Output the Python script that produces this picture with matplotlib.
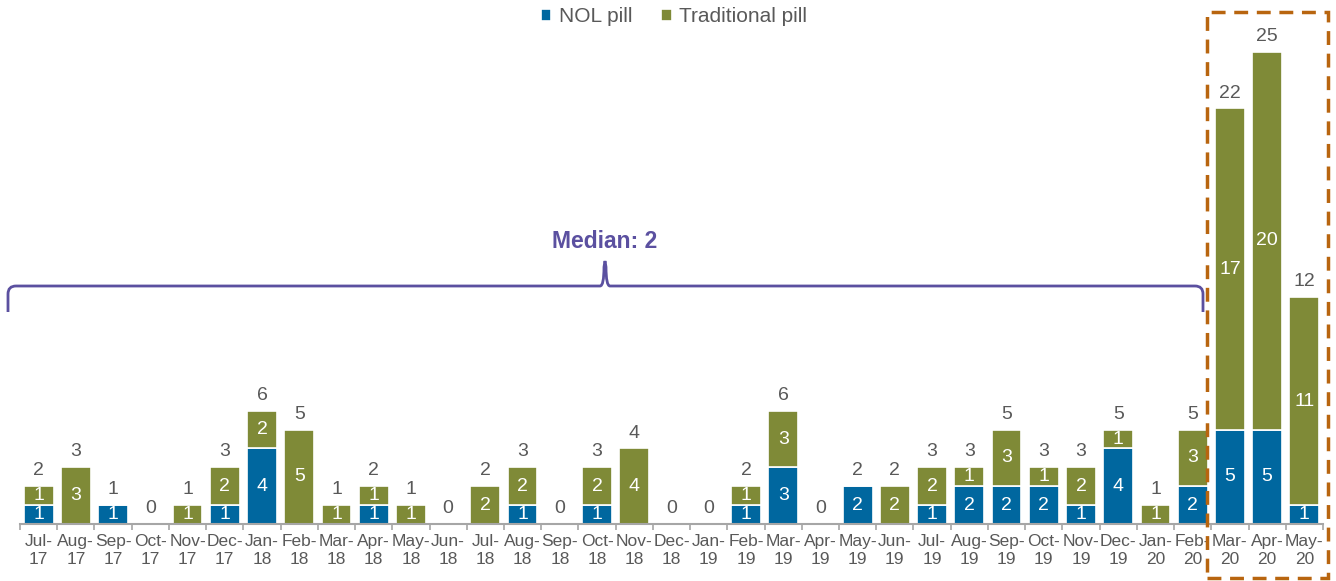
import numpy as np
import matplotlib.pyplot as plt
from matplotlib.path import Path
from matplotlib.patches import PathPatch, Rectangle

plt.rcParams['font.family'] = ['Liberation Sans', 'DejaVu Sans']

months = ['Jul-17', 'Aug-17', 'Sep-17', 'Oct-17', 'Nov-17', 'Dec-17',
          'Jan-18', 'Feb-18', 'Mar-18', 'Apr-18', 'May-18', 'Jun-18',
          'Jul-18', 'Aug-18', 'Sep-18', 'Oct-18', 'Nov-18', 'Dec-18',
          'Jan-19', 'Feb-19', 'Mar-19', 'Apr-19', 'May-19', 'Jun-19',
          'Jul-19', 'Aug-19', 'Sep-19', 'Oct-19', 'Nov-19', 'Dec-19',
          'Jan-20', 'Feb-20', 'Mar-20', 'Apr-20', 'May-20']
nol = [1, 0, 1, 0, 0, 1, 4, 0, 0, 1, 0, 0, 0, 1, 0, 1, 0, 0,
       0, 1, 3, 0, 2, 0, 1, 2, 2, 2, 1, 4, 0, 2, 5, 5, 1]
trad = [1, 3, 0, 0, 1, 2, 2, 5, 1, 1, 1, 0, 2, 2, 0, 2, 4, 0,
        0, 1, 3, 0, 0, 2, 2, 1, 3, 1, 2, 1, 1, 3, 17, 20, 11]

blue = '#00679F'
green = '#7F8A37'
grey = '#595959'
purple = '#5B50A0'
orange = '#B8650F'

W, H = 1336, 581
fig = plt.figure(figsize=(W / 100, H / 100), dpi=100)
ax = fig.add_axes([20 / W, 57 / H, 1303 / W, 510 / H])

x = np.arange(len(months))
nol = np.array(nol)
trad = np.array(trad)
total = nol + trad

ax.bar(x, nol, 0.8, color=blue, edgecolor='white', linewidth=1.2, label='NOL pill')
ax.bar(x, trad, 0.8, bottom=nol, color=green, edgecolor='white', linewidth=1.2,
       label='Traditional pill')

for i in range(len(x)):
    if nol[i] > 0:
        ax.text(x[i], nol[i] / 2, str(nol[i]), ha='center', va='center',
                color='white', fontsize=14)
    if trad[i] > 0:
        ax.text(x[i], nol[i] + trad[i] / 2, str(trad[i]), ha='center', va='center',
                color='white', fontsize=14)
    ax.annotate(str(total[i]), (x[i], total[i]), xytext=(0, 5),
                textcoords='offset points', ha='center', va='bottom',
                color=grey, fontsize=14)

ax.set_xlim(-0.5, len(x) - 0.5)
ax.set_ylim(0, 27)
ax.set_yticks([])
for s in ['top', 'right', 'left']:
    ax.spines[s].set_visible(False)
ax.spines['bottom'].set_color('#A6A6A6')
ax.spines['bottom'].set_linewidth(1.5)
ax.set_xticks(x)
ax.set_xticklabels([m.replace('-', '-\n') for m in months], color=grey,
                   fontsize=12.5, linespacing=1.3)
ax.tick_params(axis='x', which='major', length=0, pad=7)
ax.set_xticks(np.arange(-0.5, len(x)), minor=True)
ax.tick_params(axis='x', which='minor', length=4, color='#A6A6A6', width=1.2)

fig.legend(*ax.get_legend_handles_labels(), loc='center',
           bbox_to_anchor=(674 / W, 1 - 17 / H), ncol=2, frameon=False,
           fontsize=15, labelcolor=grey, handlelength=0.5, handleheight=0.5,
           handletextpad=0.35, columnspacing=1.4, borderpad=0)


def px(xp, yp):
    return (xp / W, 1 - yp / H)


# curly bracket for the median annotation
x0, x1, xm = 8, 1203, 605
yl, ye, yp, r = 286, 312, 261, 8
verts = [px(x0, ye), px(x0, yl + r), px(x0, yl), px(x0 + r, yl),
         px(xm - 5, yl), px(xm - 1, yl), px(xm - 1, yp + 6), px(xm, yp),
         px(xm + 1, yp + 6), px(xm + 1, yl), px(xm + 5, yl),
         px(x1 - r, yl), px(x1, yl), px(x1, yl + r), px(x1, ye)]
codes = [Path.MOVETO, Path.LINETO, Path.CURVE3, Path.CURVE3,
         Path.LINETO, Path.CURVE3, Path.CURVE3, Path.LINETO,
         Path.LINETO, Path.CURVE3, Path.CURVE3,
         Path.LINETO, Path.CURVE3, Path.CURVE3, Path.LINETO]
fig.patches.append(PathPatch(Path(verts, codes), transform=fig.transFigure,
                             facecolor='none', edgecolor=purple, linewidth=2))
fig.text(xm / W, 1 - 241 / H, 'Median: 2', ha='center', va='center',
         color=purple, fontsize=16.5, fontweight='bold')

# dashed box around the latest months
fig.patches.append(Rectangle(px(1207, 578), (1328 - 1207) / W, (578 - 12) / H,
                             transform=fig.transFigure, fill=False,
                             edgecolor=orange, linewidth=2.5,
                             linestyle=(0, (4, 2.5))))

fig.savefig('out.png', dpi=100)
